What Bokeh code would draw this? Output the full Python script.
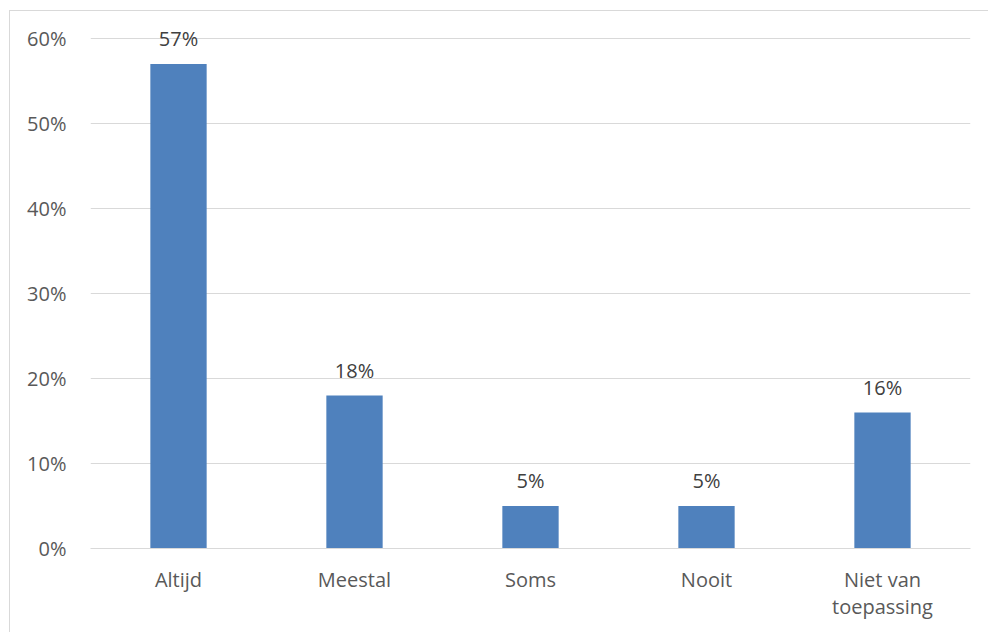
from bokeh.plotting import figure
from bokeh.models import ColumnDataSource, FixedTicker, NumeralTickFormatter
from bokeh.core.properties import value
from bokeh.embed import file_html
from bokeh.resources import INLINE

categories = ["Altijd", "Meestal", "Soms", "Nooit", "Niet van\ntoepassing"]
values = [0.57, 0.18, 0.05, 0.05, 0.16]
labels = ["57%", "18%", "5%", "5%", "16%"]
y_ticks = [0, 0.1, 0.2, 0.3, 0.4, 0.5, 0.6]

FONT = "Open Sans"
FS = "20px"

src = ColumnDataSource(dict(cat=categories, val=values, lab=labels))

p = figure(x_range=categories, y_range=(0, 0.62), width=979, height=622,
           output_backend="svg", toolbar_location=None,
           min_border_left=80, min_border_right=19, min_border_top=10, min_border_bottom=85)
p.margin = (10, 0, 0, 9)
p.styles = {"border-left": "1px solid #d9d9d9", "border-top": "1px solid #d9d9d9"}
p.outline_line_color = None
p.background_fill_color = "white"
p.border_fill_color = "white"

p.vbar(x="cat", top="val", width=0.32, source=src, color="#4F81BD", line_color=None)
p.text(x="cat", y="val", text="lab", source=src, text_align="center", text_baseline="bottom",
       y_offset=-12, text_font=value(FONT), text_font_size=FS, text_color="#404040")

p.x_range.range_padding = 0

p.yaxis.ticker = FixedTicker(ticks=y_ticks)
p.yaxis.formatter = NumeralTickFormatter(format="0%")
p.yaxis.axis_line_color = None
p.yaxis.major_tick_line_color = None
p.yaxis.minor_tick_line_color = None
p.yaxis.major_label_standoff = 18
p.yaxis.major_label_text_font = FONT
p.yaxis.major_label_text_font_size = FS
p.yaxis.major_label_text_color = "#595959"

p.xaxis.axis_line_color = "#d9d9d9"
p.xaxis.axis_line_width = 1
p.xaxis.major_tick_line_color = None
p.xaxis.minor_tick_line_color = None
p.xaxis.major_label_standoff = 11
p.xaxis.major_label_text_font = FONT
p.xaxis.major_label_text_font_size = FS
p.xaxis.major_label_text_line_height = 1.0
p.xaxis.major_label_text_color = "#595959"

p.xgrid.grid_line_color = None
p.ygrid.grid_line_color = "#d9d9d9"
p.ygrid.grid_line_width = 1

open("out.html", "w").write(file_html(p, INLINE))
